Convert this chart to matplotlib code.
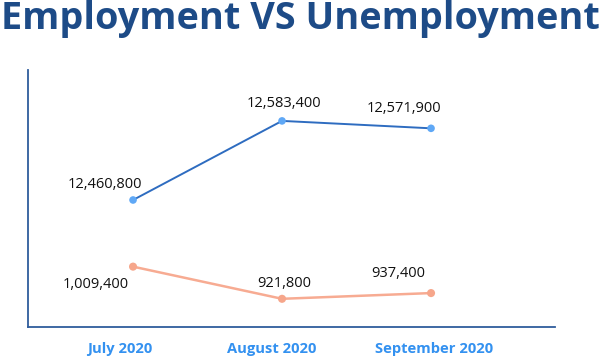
import matplotlib
matplotlib.use("Agg")
import matplotlib.pyplot as plt
from matplotlib.transforms import ScaledTranslation

months = ["July 2020", "August 2020", "September 2020"]
employment = [12460800, 12583400, 12571900]
unemployment = [1009400, 921800, 937400]

DPI = 100
fig = plt.figure(figsize=(6.0, 3.57), dpi=DPI)
W, H = 600, 357
left, right, top, bottom = 28, 555, 70, 327
ax = fig.add_axes([left / W, 1 - bottom / H, (right - left) / W, (bottom - top) / H])
ax2 = ax.twinx()

x = list(range(len(months)))
ax.set_xlim(-0.705, 2.832)
ax.set_ylim(12263900, 12662300)
ax2.set_ylim(845000, 1545000)

blue_line = "#2e6cc0"
blue_pt = "#5fa8f6"
or_line = "#f7ab92"
or_pt = "#f6a68b"
spine_c = "#2f5d9c"

ax.plot(x, employment, color=blue_line, lw=1.4, zorder=3)
ax.scatter(x, employment, s=30, color=blue_pt, zorder=4, edgecolors="none")
ax2.plot(x, unemployment, color=or_line, lw=1.8, zorder=3)
ax2.scatter(x, unemployment, s=34, color=or_pt, zorder=4, edgecolors="none")

px = 72 / DPI
emp_off = [(-28, 15), (2, 17), (-27, 20)]
unemp_off = [(-37, -18), (2, 15), (-33, 20)]
for i, v in enumerate(employment):
    ax.annotate(f"{v:,}", (x[i], v), xytext=(emp_off[i][0] * px, emp_off[i][1] * px),
                textcoords="offset points", ha="center", va="center",
                fontsize=10.5, family="Open Sans", color="#111111")
for i, v in enumerate(unemployment):
    ax2.annotate(f"{v:,}", (x[i], v), xytext=(unemp_off[i][0] * px, unemp_off[i][1] * px),
                 textcoords="offset points", ha="center", va="center",
                 fontsize=10.5, family="Open Sans", color="#111111")

for a in (ax, ax2):
    for s in ("top", "right", "left", "bottom"):
        a.spines[s].set_visible(False)
for s in ("left", "bottom"):
    ax.spines[s].set_visible(True)
    ax.spines[s].set_color(spine_c)
    ax.spines[s].set_linewidth(1.3)

ax.set_yticks([])
ax2.set_yticks([])
ax.set_xticks(x)
ax.set_xticklabels(months, fontsize=10.6, fontweight="bold", family="Open Sans", color="#3391f0")
ax.tick_params(axis="x", length=0, pad=11)
shifts = [-13, -10, 3]
for lbl, dx in zip(ax.get_xticklabels(), shifts):
    lbl.set_transform(lbl.get_transform() + ScaledTranslation(dx / DPI, 0, fig.dpi_scale_trans))

fig.text(1 / W, 1 - 19 / H, "Employment VS Unemployment", ha="left", va="center",
         fontsize=27.3, fontweight="bold", family="Open Sans", color="#1d4b87")

fig.savefig("out.png", dpi=DPI)
